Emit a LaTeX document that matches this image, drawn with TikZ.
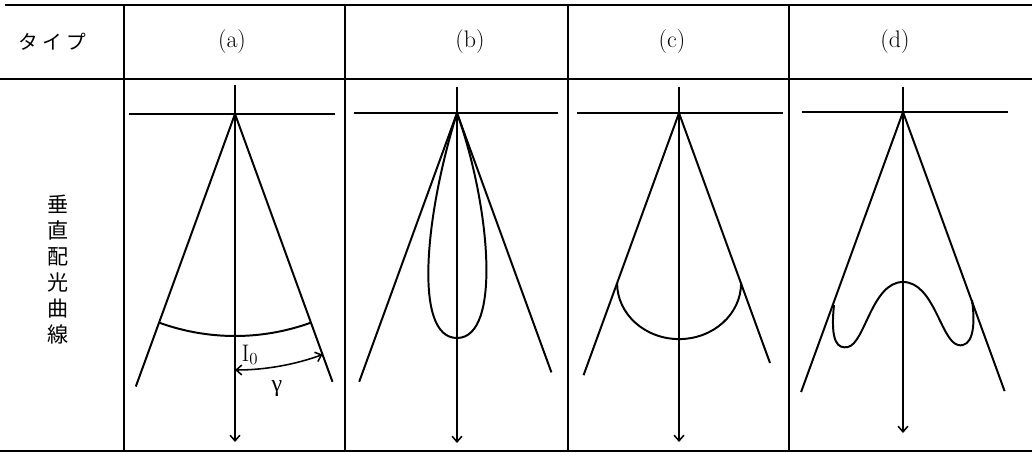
\documentclass[tikz,border=0pt]{standalone}
\usepackage{fontspec}
\newfontfamily\jpfont{Noto Sans CJK JP}
\newfontfamily\grkfont{Liberation Serif}
\usepackage{tikz}
\usetikzlibrary{arrows.meta, calc}
\tikzstyle{ruling} = [line width=0.9pt]
\tikzstyle{lobe} = [line width=1.4pt]
\tikzstyle{beam} = [line width=1.1pt, -{Straight Barb[length=4pt,width=7pt]}]
\tikzstyle{twoway} = [line width=1.1pt, {Straight Barb[length=4pt,width=7pt]}-{Straight Barb[length=4pt,width=7pt]}]
\tikzstyle{head} = [font=\fontsize{17}{20}\selectfont]
\tikzstyle{jp} = [font=\jpfont\fontsize{14}{18.5}\selectfont]

\begin{document}
\begin{tikzpicture}[x=0.025cm, y=0.025cm]
\useasboundingbox (0,0) rectangle (1032,453);

% Table rules
\draw [ruling] (5,448) -- (1032,448);
\draw [ruling] (0,374) -- (1032,374);
\draw [ruling] (0,2) -- (1032,2);
\foreach \x in {124,345,568,789}
  \draw [ruling] (\x,448) -- (\x,2);

% Header row
\node (type) [jp] at (52,411) {タ イ プ};
\node (ha) [head] at (232,411) {(a)};
\node (hb) [head] at (470,411) {(b)};
\node (hc) [head] at (672,411) {(c)};
\node (hd) [head] at (895,411) {(d)};

% Row label
\node (row) [jp, font=\jpfont\fontsize{15}{18.5}\selectfont, align=center] at (58,183) {垂\\直\\配\\光\\曲\\線};

% Type (a)
\coordinate (aO) at (235,339);
\coordinate (aT) at (235,368);
\coordinate (aB) at (235,11);
\coordinate (aL) at ($(aO)+(250:290)$);
\coordinate (aR) at ($(aO)+(290:285)$);
\draw [lobe] (129,339) -- (335,339);
\draw [beam] (aT) -- (aB);
\draw [lobe] (aL) -- (aO) -- (aR);
\draw [lobe] ($(aO)+(250:222)$) arc[start angle=250, end angle=290, radius=222];
\draw [twoway] ($(aO)+(270:256)$) arc[start angle=270, end angle=290, radius=256];
\node (io) [head] at (250,98) {I$_0$};
\node (gam) [head] at (277,64) {\grkfont γ};

% Type (b)
\coordinate (bO) at (457,340);
\coordinate (bT) at (457,366);
\coordinate (bB) at (457,10);
\coordinate (bL) at ($(bO)+(250:286)$);
\coordinate (bR) at ($(bO)+(290:276)$);
\draw [lobe] (354,340) -- (558,340);
\draw [beam] (bT) -- (bB);
\draw [lobe] (bL) -- (bO) -- (bR);
\draw [lobe] (bO) .. controls (425,238) and (413,115) .. (457,115)
  .. controls (502,115) and (490,248) .. (bO);

% Type (c)
\coordinate (cO) at (679,340);
\coordinate (cT) at (679,366);
\coordinate (cB) at (679,11);
\coordinate (cL) at ($(cO)+(250:279)$);
\coordinate (cR) at ($(cO)+(290:266)$);
\draw [lobe] (577,340) -- (783,340);
\draw [beam] (cT) -- (cB);
\draw [lobe] (cL) -- (cO) -- (cR);
\draw [lobe] ($(cO)+(250:181)$) arc[start angle=180, end angle=360, x radius=62, y radius=56];

% Type (d)
\coordinate (dO) at (903,341);
\coordinate (dT) at (903,366);
\coordinate (dB) at (903,20);
\coordinate (dL) at ($(dO)+(250:298)$);
\coordinate (dR) at ($(dO)+(290:297)$);
\draw [lobe] (802,341) -- (1008,341);
\draw [beam] (dT) -- (dB);
\draw [lobe] (dL) -- (dO) -- (dR);
\draw [lobe] (834,148) .. controls (830,110) and (838,104) .. (848,106)
  .. controls (865,110) and (872,171) .. (903,171)
  .. controls (934,171) and (941,112) .. (958,108)
  .. controls (972,105) and (976,125) .. (972,153);

\end{tikzpicture}
\end{document}
